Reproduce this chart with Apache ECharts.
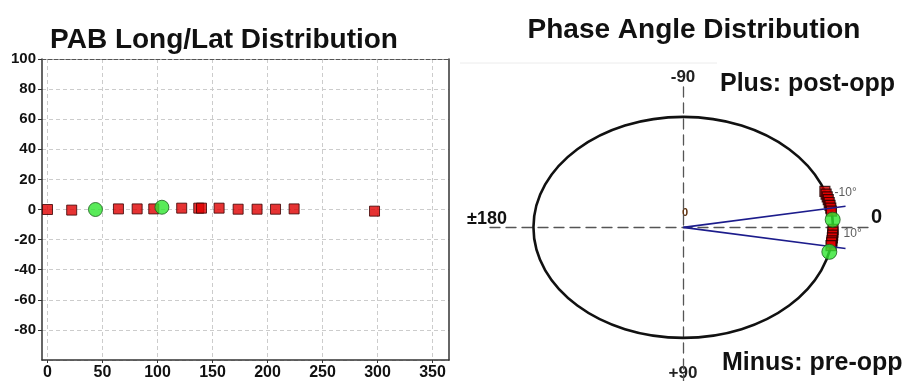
<!DOCTYPE html>
<html><head><meta charset="utf-8">
<script src="https://cdn.jsdelivr.net/npm/echarts@6/dist/echarts.min.js"></script>
<style>html,body{margin:0;padding:0;background:#fff}#c{width:904px;height:381px}</style>
</head><body><div id="c"></div>
<script>
// ---- data ----
const longTicks = [0, 50, 100, 150, 200, 250, 300, 350];
const latTicks = [-80, -60, -40, -20, 0, 20, 40, 60, 80, 100];
const redLong = [0, 22, 64.5, 81.5, 96.6, 122, 137.5, 140, 156, 173.3, 190.5, 207.3, 224.2, 297.3];
const redLat  = [0, -0.4, 0.4, 0.4, 0.4, 0.9, 0.9, 0.9, 0.9, 0.2, 0.2, 0.2, 0.4, -1.1];
const greenLong = [43.6, 104];
const greenLat  = [0, 1.5];
const redPhase = [-19, -17.5, -16, -14.5, -13, -11.5, -10, -8.5, 1, 2.5, 4, 5.5, 7, 8, 9.5];
const greenPhase = [-4, 12.8];
const phaseLimits = [-10, 10];
const limitLabels = ['-10°', '10°'];

const FONT = "'Liberation Sans', Arial, sans-serif";
const rad = d => d * Math.PI / 180;
const onCircle = (a, r) => [r * Math.cos(rad(a)), r * Math.sin(rad(a))];
const zip = (a, b) => a.map((v, i) => [v, b[i]]);

const chart = echarts.init(document.getElementById('c'), null, {renderer: 'canvas'});

const option = {
  animation: false,
  backgroundColor: '#fff',
  textStyle: {fontFamily: FONT},
  title: [
    {text: 'PAB Long/Lat Distribution', left: 224, top: 26, textAlign: 'center', padding: 0,
     textStyle: {fontFamily: FONT, fontSize: 28, fontWeight: 'bold', color: '#111'}},
    {text: 'Phase Angle Distribution', left: 694, top: 16, textAlign: 'center', padding: 0,
     textStyle: {fontFamily: FONT, fontSize: 28, fontWeight: 'bold', color: '#111'}}
  ],
  grid: [
    {left: 42, top: 59, width: 407, height: 301},
    {left: 490, top: 87, width: 382, height: 294}
  ],
  xAxis: [
    {gridIndex: 0, type: 'value', min: -5, max: 365,
     axisLine: {show: true, onZero: false, lineStyle: {color: '#333', width: 1.5}},
     axisTick: {show: true, customValues: longTicks, length: 3, lineStyle: {color: '#333'}},
     axisLabel: {customValues: longTicks, margin: 5, fontSize: 16, fontWeight: 'bold', color: '#111', fontFamily: FONT},
     splitLine: {show: true, lineStyle: {color: '#cccccc', type: [4, 3], width: 1}}},
    {gridIndex: 0, type: 'value', position: 'top', min: -5, max: 365,
     axisLine: {show: true, onZero: false, lineStyle: {color: '#555', type: [4, 2], width: 1.2}},
     axisTick: {show: false}, axisLabel: {show: false}, splitLine: {show: false}},
    {gridIndex: 1, type: 'value', min: -1.29, max: 1.26,
     axisLine: {show: true, onZero: true, lineStyle: {color: '#555', type: [10, 6], width: 1.3}},
     axisTick: {show: false}, axisLabel: {show: false}, splitLine: {show: false}}
  ],
  yAxis: [
    {gridIndex: 0, type: 'value', min: -100, max: 100, interval: 20,
     axisLine: {show: true, onZero: false, lineStyle: {color: '#333', width: 1.5}},
     axisTick: {show: true, length: 4, lineStyle: {color: '#333'}},
     axisLabel: {showMinLabel: false, margin: 6, fontSize: 15, fontWeight: 'bold', color: '#111', fontFamily: FONT,
       formatter: v => latTicks.includes(v) ? String(v) : ''},
     splitLine: {show: true, lineStyle: {color: '#cccccc', type: [4, 3], width: 1}}},
    {gridIndex: 0, type: 'value', position: 'right', min: -100, max: 100, interval: 20,
     axisLine: {show: true, onZero: false, lineStyle: {color: '#333', width: 1.5}},
     axisTick: {show: false}, axisLabel: {show: false}, splitLine: {show: false}},
    {gridIndex: 1, type: 'value', inverse: true, min: -1.27, max: 1.39,
     axisLine: {show: true, onZero: true, lineStyle: {color: '#555', type: [10, 6], width: 1.3}},
     axisTick: {show: false}, axisLabel: {show: false}, splitLine: {show: false}}
  ],
  series: [
    {type: 'scatter', xAxisIndex: 0, yAxisIndex: 0, data: zip(redLong, redLat),
     symbol: 'rect', symbolSize: 10,
     itemStyle: {color: '#e00000', borderColor: '#3a0000', borderWidth: 1}},
    {type: 'scatter', xAxisIndex: 0, yAxisIndex: 0, data: zip(greenLong, greenLat),
     symbol: 'circle', symbolSize: 14,
     itemStyle: {color: '#2fe62f', borderColor: '#1d5c1d', borderWidth: 1}},
    // phase circle (unit circle in phase-angle frame)
    {type: 'custom', xAxisIndex: 2, yAxisIndex: 2, data: [[0, 0]], silent: true,
     renderItem: (params, api) => {
       const c = api.coord([0, 0]);
       const px = api.coord([1, 0]);
       const py = api.coord([0, 1]);
       return {type: 'ellipse', shape: {cx: c[0], cy: c[1], rx: Math.abs(px[0] - c[0]), ry: Math.abs(py[1] - c[1])},
               style: {fill: 'none', stroke: '#111', lineWidth: 2.6}};
     }},
    {type: 'scatter', xAxisIndex: 2, yAxisIndex: 2, data: redPhase.map(a => onCircle(a, 1)),
     symbol: 'rect', symbolSize: 10,
     itemStyle: {color: '#e00000', borderColor: '#200000', borderWidth: 1.2}},
    ...phaseLimits.map(a => ({
      type: 'line', xAxisIndex: 2, yAxisIndex: 2, symbol: 'none', silent: true,
      data: [[0, 0], onCircle(a, 1.1)],
      lineStyle: {color: '#1c1c8c', width: 1.6}
    })),
    {type: 'scatter', xAxisIndex: 2, yAxisIndex: 2, data: greenPhase.map(a => onCircle(a, 1)),
     symbol: 'circle', symbolSize: 15, z: 5,
     itemStyle: {color: '#2fe62f', borderColor: '#1d5c1d', borderWidth: 1}},
    {type: 'scatter', xAxisIndex: 2, yAxisIndex: 2, symbolSize: 0, silent: true,
     data: [[1.01, -0.31, limitLabels[0]], [1.07, 0.06, limitLabels[1]]],
     label: {show: true, position: 'right', distance: 0, formatter: p => p.data[2],
             fontSize: 12, color: '#333', fontFamily: FONT}}
  ],
  graphic: [
    {type: 'line', shape: {x1: 460, y1: 63, x2: 717, y2: 63}, style: {stroke: '#ececec', lineWidth: 1}, silent: true},
    {type: 'text', x: 683, y: 77, style: {text: '-90', fontSize: 17, fontWeight: 'bold', fill: '#222', fontFamily: FONT, textAlign: 'center', textVerticalAlign: 'middle'}},
    {type: 'text', x: 683, y: 382, style: {text: '+90', fontSize: 17, fontWeight: 'bold', fill: '#222', fontFamily: FONT, textAlign: 'center', textVerticalAlign: 'bottom'}},
    {type: 'text', x: 467, y: 219, style: {text: '±180', fontSize: 18, fontWeight: 'bold', fill: '#111', fontFamily: FONT, textAlign: 'left', textVerticalAlign: 'middle'}},
    {type: 'text', x: 871, y: 217, style: {text: '0', fontSize: 20, fontWeight: 'bold', fill: '#111', fontFamily: FONT, textAlign: 'left', textVerticalAlign: 'middle'}},
    {type: 'text', x: 685, y: 213, style: {text: '0', fontSize: 11, fontWeight: 'bold', fill: '#5c2e0a', fontFamily: FONT, textAlign: 'center', textVerticalAlign: 'middle'}},
    {type: 'text', x: 720, y: 84, style: {text: 'Plus: post-opp', fontSize: 25, fontWeight: 'bold', fill: '#111', fontFamily: FONT, textAlign: 'left', textVerticalAlign: 'middle'}},
    {type: 'text', x: 722, y: 363, style: {text: 'Minus: pre-opp', fontSize: 25, fontWeight: 'bold', fill: '#111', fontFamily: FONT, textAlign: 'left', textVerticalAlign: 'middle'}}
  ]
};
chart.setOption(option);
</script>
</body></html>
